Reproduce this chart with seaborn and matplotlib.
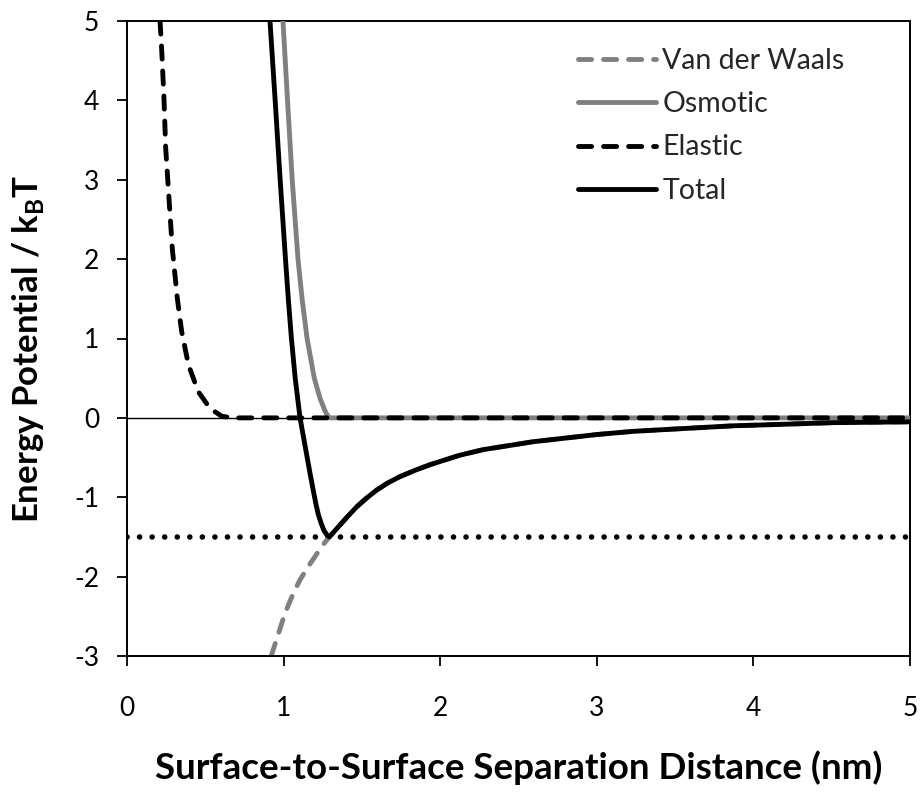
import matplotlib
matplotlib.use("Agg")
import matplotlib.pyplot as plt
import seaborn as sns
import pandas as pd

# ---- data ----
vdw_x = [0.921, 1.009, 1.062, 1.105, 1.158, 1.2, 1.243, 1.292, 1.36, 1.41, 1.467, 1.53,
         1.594, 1.665, 1.743, 1.84, 1.935, 2.03, 2.126, 2.275, 2.595, 3.0, 3.23, 3.5,
         3.87, 4.2, 4.51, 5.0]
vdw_y = [-3.0, -2.46, -2.21, -2.04, -1.87, -1.75, -1.62, -1.50, -1.35, -1.24, -1.12, -1.01,
         -0.91, -0.82, -0.74, -0.66, -0.59, -0.53, -0.47, -0.40, -0.30, -0.21, -0.17, -0.14,
         -0.10, -0.08, -0.06, -0.05]

osmotic_x = [0.996, 1.025, 1.055, 1.092, 1.118, 1.15, 1.196, 1.232, 1.262, 1.28, 1.296, 5.0]
osmotic_y = [5.0, 4.0, 3.0, 2.0, 1.5, 1.0, 0.5, 0.25, 0.10, 0.03, 0.0, 0.0]

elastic_x = [0.211, 0.221, 0.236, 0.247, 0.268, 0.289, 0.321, 0.349, 0.392, 0.455,
             0.53, 0.605, 0.68, 5.0]
elastic_y = [5.0, 4.66, 4.03, 3.40, 2.77, 2.14, 1.51, 1.09, 0.67, 0.33,
             0.12, 0.02, 0.0, 0.0]

total_x = [0.913, 0.946, 0.978, 1.012, 1.03, 1.05, 1.074, 1.105, 1.126,
           1.147, 1.168, 1.19, 1.208, 1.222, 1.24, 1.258, 1.275, 1.292, 1.36, 1.41,
           1.467, 1.53, 1.594, 1.665, 1.743, 1.84, 1.935, 2.03, 2.126, 2.275, 2.595,
           3.0, 3.23, 3.5, 3.87, 4.2, 4.51, 5.0]
total_y = [5.0, 4.0, 3.0, 2.0, 1.5, 1.0, 0.5, 0.0, -0.23,
           -0.46, -0.69, -0.92, -1.10, -1.22, -1.33, -1.42, -1.47, -1.50, -1.35, -1.24,
           -1.12, -1.01, -0.91, -0.82, -0.74, -0.66, -0.59, -0.53, -0.47, -0.40, -0.30,
           -0.21, -0.17, -0.14, -0.10, -0.08, -0.06, -0.05]

min_level = -1.5

x_ticks = [0, 1, 2, 3, 4, 5]
y_ticks = [-3, -2, -1, 0, 1, 2, 3, 4, 5]
x_label = "Surface-to-Surface Separation Distance (nm)"
y_label = r"Energy Potential / k$_\mathregular{B}$T"
series_labels = ["Van der Waals", "Osmotic", "Elastic", "Total"]

# ---- style ----
sns.set_theme(style="white")
plt.rcParams["font.family"] = ["Lato", "DejaVu Sans"]
plt.rcParams["axes.unicode_minus"] = False
plt.rcParams["mathtext.fontset"] = "custom"
plt.rcParams["mathtext.rm"] = "Lato:bold"
plt.rcParams["mathtext.bf"] = "Lato:bold"

fig = plt.figure(figsize=(9.21, 7.93), dpi=100)
ax = fig.add_axes([127 / 921, 1 - 656 / 793, 783 / 921, 635 / 793])

gray = "#808080"
lw = 3.5
dash = (0, (2.7, 2.45))

ax.axhline(0, color="black", lw=1.0, zorder=1)
ax.axhline(min_level, color="black", lw=4.0, linestyle=(0, (0.01, 2.25)),
           dash_capstyle="round", zorder=1.5)

df_v = pd.DataFrame({"x": vdw_x, "y": vdw_y})
df_o = pd.DataFrame({"x": osmotic_x, "y": osmotic_y})
df_e = pd.DataFrame({"x": elastic_x, "y": elastic_y})
df_t = pd.DataFrame({"x": total_x, "y": total_y})

sns.lineplot(data=df_v, x="x", y="y", ax=ax, color=gray, lw=lw, estimator=None,
             linestyle=dash, label=series_labels[0], zorder=2)
l_v = ax.lines[-1]
sns.lineplot(data=df_o, x="x", y="y", ax=ax, color=gray, lw=lw, estimator=None,
             label=series_labels[1], zorder=3)
l_o = ax.lines[-1]
sns.lineplot(data=df_e, x="x", y="y", ax=ax, color="black", lw=lw, estimator=None,
             linestyle=dash, label=series_labels[2], zorder=4)
l_e = ax.lines[-1]
sns.lineplot(data=df_t, x="x", y="y", ax=ax, color="black", lw=lw, estimator=None,
             label=series_labels[3], zorder=5)
l_t = ax.lines[-1]
for ln in (l_v, l_e):
    ln.set_dash_capstyle("round")
    ln.set_dash_joinstyle("round")
for ln in (l_o, l_t):
    ln.set_solid_capstyle("round")
    ln.set_solid_joinstyle("round")

ax.set_xlim(0, 5)
ax.set_ylim(-3, 5)
ax.set_xticks(x_ticks)
ax.set_yticks(y_ticks)
ax.set_xticklabels([str(t) for t in x_ticks])
ax.set_yticklabels([str(t) for t in y_ticks])

for s in ax.spines.values():
    s.set_visible(True)
    s.set_color("black")
    s.set_linewidth(1.4)

ax.tick_params(axis="x", which="major", bottom=True, direction="out", length=7,
               width=1.3, color="black", labelsize=19, pad=22, labelcolor="black")
ax.tick_params(axis="y", which="major", left=True, direction="out", length=7,
               width=1.3, color="black", labelsize=19, pad=13, labelcolor="black")

ax.set_xlabel(x_label, fontsize=26.5, fontweight="bold", color="black")
ax.set_ylabel(y_label, fontsize=25, fontweight="bold", color="black")
ax.xaxis.set_label_coords(0.5, -0.148)
ax.yaxis.set_label_coords(-0.103, 0.483)

ax.legend(handles=[l_v, l_o, l_e, l_t], labels=series_labels,
          loc="upper left", bbox_to_anchor=(0.576, 0.957), frameon=False,
          fontsize=20.5, handlelength=2.73, handletextpad=0.23, labelspacing=0.6,
          borderpad=0, borderaxespad=0)

fig.savefig("out.png", dpi=100)
